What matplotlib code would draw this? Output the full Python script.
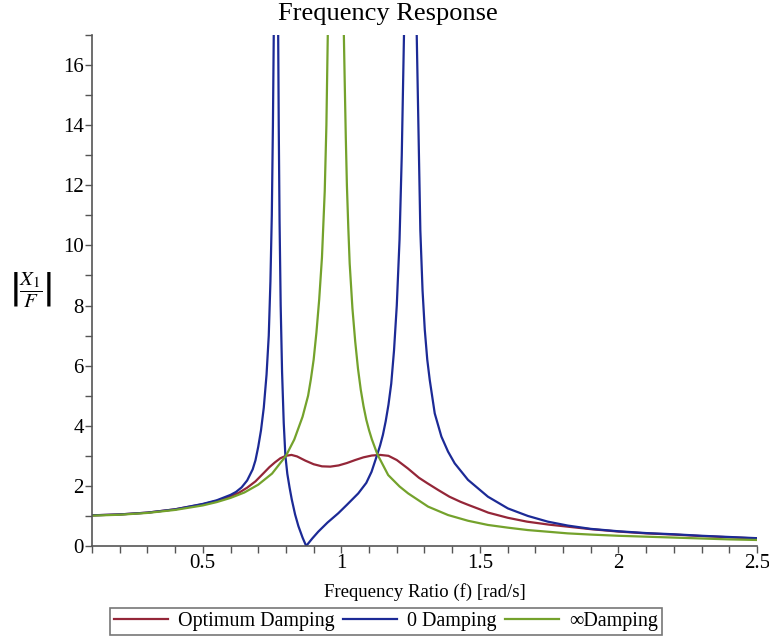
import matplotlib.pyplot as plt
import numpy as np

plt.rcParams['font.family'] = ['Liberation Serif', 'DejaVu Serif']
plt.rcParams['mathtext.fontset'] = 'stix'

nan = np.nan

# Optimum Damping (red)
x_opt = [0.1, 0.2, 0.3, 0.4, 0.5, 0.55, 0.6, 0.63, 0.66, 0.69, 0.72, 0.74, 0.76, 0.78, 0.8,
         0.82, 0.84, 0.87, 0.9, 0.93, 0.96, 0.99, 1.02, 1.05, 1.08, 1.11, 1.14, 1.17, 1.2,
         1.24, 1.28, 1.31, 1.35, 1.39, 1.43, 1.46, 1.5, 1.53, 1.6, 1.67, 1.75, 1.82,
         1.9, 2.0, 2.1, 2.2, 2.3, 2.4, 2.5]
y_opt = [1.02, 1.05, 1.11, 1.22, 1.39, 1.50, 1.65, 1.77, 1.94, 2.15, 2.43, 2.62, 2.78, 2.92,
         3.0, 3.03, 2.98, 2.84, 2.72, 2.65, 2.64, 2.68, 2.76, 2.86, 2.95, 3.01, 3.03, 3.0,
         2.86, 2.58, 2.27, 2.09, 1.86, 1.64, 1.47, 1.36, 1.22, 1.11, 0.94, 0.81, 0.71, 0.64,
         0.56, 0.48, 0.42, 0.38, 0.33, 0.29, 0.25]

# 0 Damping (blue), broken at the two resonances
x_zero = [0.1, 0.2, 0.3, 0.4, 0.5, 0.55, 0.6, 0.62, 0.64, 0.66, 0.68, 0.69, 0.70, 0.71,
          0.72, 0.73, 0.738, 0.744, 0.749, 0.753, 0.756, nan,
          0.772, 0.774, 0.777, 0.781, 0.786, 0.792, 0.798, 0.805, 0.813, 0.821, 0.833, 0.845,
          0.86, 0.873,
          0.895, 0.917, 0.95, 0.989, 1.02, 1.061, 1.09, 1.109, 1.128, 1.14, 1.15, 1.16, 1.17,
          1.18, 1.19, 1.2, 1.21, 1.218, 1.226, nan,
          1.272, 1.279, 1.285, 1.293, 1.301, 1.31, 1.319, 1.337, 1.361, 1.385, 1.409, 1.457,
          1.529, 1.601, 1.673, 1.745, 1.817, 1.9, 2.0, 2.1, 2.2, 2.3, 2.4, 2.5]
y_zero = [1.02, 1.05, 1.11, 1.22, 1.40, 1.52, 1.70, 1.80, 1.95, 2.18, 2.55, 2.85, 3.3, 3.85,
          4.6, 5.7, 7.0, 8.8, 11.0, 14.0, 17.0, nan,
          17.0, 14.0, 10.8, 8.0, 5.8, 4.1, 3.0, 2.4, 1.95, 1.55, 1.05, 0.66,
          0.28, 0.0,
          0.25, 0.48, 0.78, 1.09, 1.37, 1.75, 2.1, 2.47, 3.0, 3.35, 3.7, 4.15, 4.7,
          5.4, 6.5, 8.0, 10.2, 13.0, 17.0, nan,
          17.0, 13.5, 10.5, 8.5, 7.2, 6.2, 5.52, 4.41, 3.64, 3.14, 2.75, 2.20,
          1.64, 1.25, 1.0, 0.81, 0.68, 0.57, 0.49, 0.43, 0.39, 0.34, 0.30, 0.26]

# Infinite Damping (green), broken at its resonance
x_inf = [0.1, 0.2, 0.3, 0.4, 0.5, 0.55, 0.6, 0.65, 0.7, 0.75, 0.8, 0.83, 0.86, 0.88, 0.89,
         0.9, 0.91, 0.92, 0.93, 0.94, 0.946, 0.951, nan,
         1.009, 1.012, 1.016, 1.02, 1.025, 1.03, 1.04, 1.05, 1.06, 1.07, 1.08, 1.09, 1.1,
         1.11, 1.13, 1.169, 1.21, 1.241, 1.313,
         1.385, 1.457, 1.529, 1.601, 1.673, 1.817, 1.9, 2.0, 2.1, 2.2, 2.3, 2.4, 2.5]
y_inf = [1.01, 1.04, 1.10, 1.20, 1.35, 1.46, 1.60, 1.78, 2.04, 2.41, 3.0, 3.54, 4.3, 5.0, 5.55,
         6.2, 7.1, 8.2, 9.6, 11.8, 14.0, 17.0, nan,
         17.0, 15.5, 13.6, 12.0, 10.6, 9.4, 7.9, 6.8, 5.9, 5.2, 4.65, 4.2, 3.85,
         3.55, 3.05, 2.36, 1.98, 1.75, 1.31,
         1.03, 0.84, 0.70, 0.61, 0.53, 0.42, 0.38, 0.34, 0.31, 0.28, 0.25, 0.22, 0.20]

fig = plt.figure(figsize=(7.69, 6.38), dpi=100)
ax = fig.add_axes([0.1196, 0.1442, 0.8648, 0.801])

ax.plot(x_opt, y_opt, color='#942638', lw=1.6, label='Optimum Damping')
ax.plot(x_zero, y_zero, color='#1c2a96', lw=1.6, label='0 Damping')
ax.plot(x_inf, y_inf, color='#74a22c', lw=1.6, label='\u221eDamping')

ax.set_xlim(0.1, 2.5)
ax.set_ylim(0, 17)
ax.set_xticks([0.5, 1, 1.5, 2, 2.5])
ax.set_xticklabels(['0.5', '1', '1.5', '2', '2.5'])
ax.set_xticks(np.arange(0.1, 2.51, 0.1), minor=True)
ax.set_yticks(range(0, 17, 2))
ax.set_yticks(range(0, 18), minor=True)
ax.tick_params(which='both', direction='out', length=5, width=1, color='#555555',
               labelsize=15, pad=1)

for s in ['top', 'right']:
    ax.spines[s].set_visible(False)
for s in ['left', 'bottom']:
    ax.spines[s].set_color('#555555')
    ax.spines[s].set_linewidth(1.2)

ax.set_xlabel('Frequency Ratio (f) [rad/s]', fontsize=13.5, labelpad=7)
ax.set_ylabel(r'$\left|\dfrac{X_1}{F}\right|$', fontsize=15, rotation=0, va='center')
ax.yaxis.set_label_coords(-0.092, 0.5)

fig.suptitle('Frequency Response', fontsize=19, y=0.995, va='top', x=0.505)

leg = fig.legend(loc='lower center', bbox_to_anchor=(0.502, 0.0), ncol=3, fontsize=14.5,
                 frameon=True, fancybox=False, edgecolor='#555555', handlelength=2.7,
                 handletextpad=0.5, columnspacing=0.4, borderpad=0.2, borderaxespad=0.15)
leg.get_frame().set_linewidth(1.2)

plt.savefig('out.png', dpi=100)
